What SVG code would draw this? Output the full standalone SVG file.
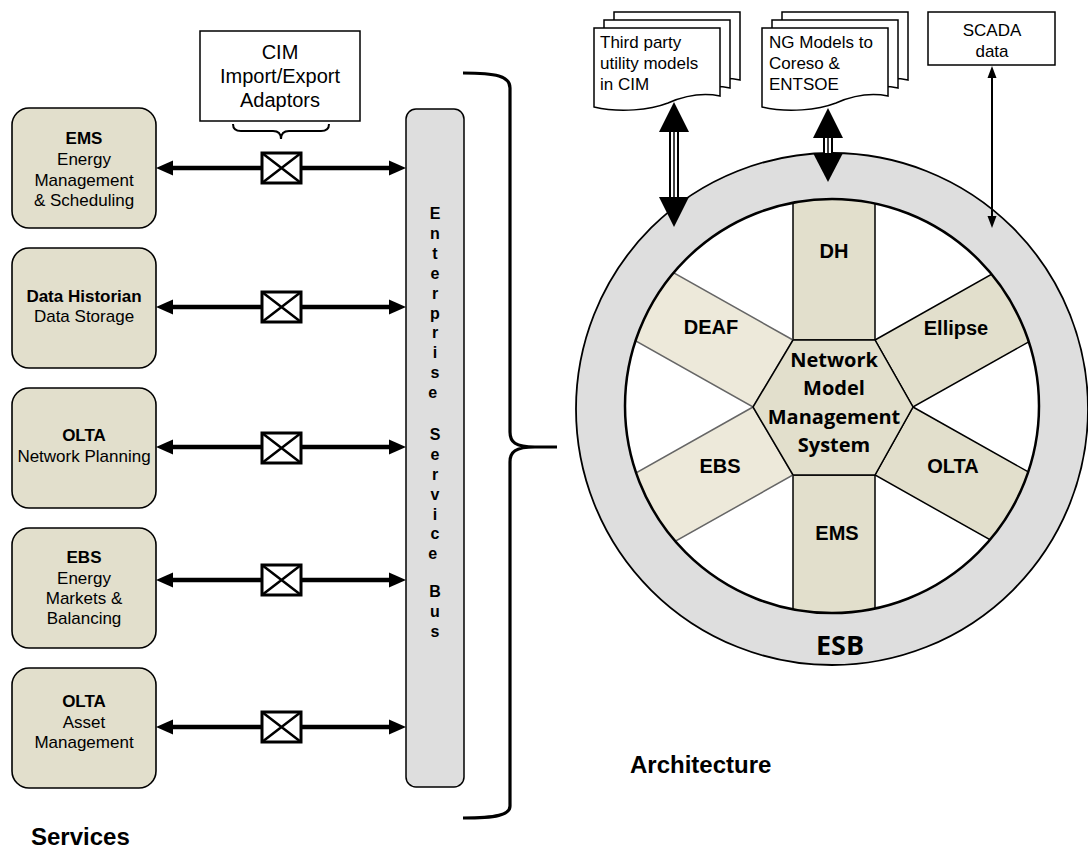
<svg xmlns="http://www.w3.org/2000/svg" width="1088" height="848" viewBox="0 0 1088 848">
<style>
.box{fill:#e2dfcc;stroke:#000;stroke-width:1.6}
.t{font-family:"Liberation Sans",Arial,sans-serif;font-size:17px;fill:#000;text-anchor:middle}
.tl{font-family:"Liberation Sans",Arial,sans-serif;font-size:17px;fill:#000}
.b{font-weight:bold}
.bus{font-family:"Liberation Sans",Arial,sans-serif;font-size:16px;font-weight:bold;text-anchor:middle}
.lab{font-family:"Liberation Sans",Arial,sans-serif;font-size:20px;font-weight:bold;text-anchor:middle}
.cal{font-family:"Open Sans","Liberation Sans",sans-serif;font-weight:bold;text-anchor:middle}
.ln{stroke:#000;stroke-width:4.5;fill:none}
.xb{fill:#fff;stroke:#000;stroke-width:3}
.xl{stroke:#000;stroke-width:2.5}
.doc{fill:#fff;stroke:#000;stroke-width:1.5}
.spk{fill:#e2dfcc;stroke:#000;stroke-width:1.5}
.spkl{fill:#ede9da;stroke:#666;stroke-width:1.5}
</style>
<defs>
<clipPath id="inner"><circle cx="832" cy="406" r="207"/></clipPath>
<path id="docshape" d="M0,0 H126 V68 C106,64 90,68 74,75 C56,82 26,85 0,79 Z"/>
</defs>

<!-- Left service boxes -->
<g id="node-ems">
<rect class="box" x="12" y="108" width="144" height="120" rx="17"/>
<text class="t b" x="84" y="144">EMS</text>
<text class="t" x="84" y="165">Energy</text>
<text class="t" x="84" y="186">Management</text>
<text class="t" x="84" y="206">&amp; Scheduling</text>
</g>
<g id="node-dh">
<rect class="box" x="12" y="248" width="144" height="120" rx="17"/>
<text class="t b" x="84" y="302">Data Historian</text>
<text class="t" x="84" y="322">Data Storage</text>
</g>
<g id="node-olta-np">
<rect class="box" x="12" y="388" width="144" height="120" rx="17"/>
<text class="t b" x="84" y="441">OLTA</text>
<text class="t" x="84" y="462">Network Planning</text>
</g>
<g id="node-ebs">
<rect class="box" x="12" y="528" width="144" height="120" rx="17"/>
<text class="t b" x="84" y="563">EBS</text>
<text class="t" x="84" y="584">Energy</text>
<text class="t" x="84" y="604">Markets &amp;</text>
<text class="t" x="84" y="624">Balancing</text>
</g>
<g id="node-olta-am">
<rect class="box" x="12" y="668" width="144" height="120" rx="17"/>
<text class="t b" x="84" y="707">OLTA</text>
<text class="t" x="84" y="728">Asset</text>
<text class="t" x="84" y="748">Management</text>
</g>

<!-- CIM adaptors -->
<g id="node-cim">
<rect x="200" y="31" width="160" height="90" fill="#fff" stroke="#000" stroke-width="1.5"/>
<text class="t" x="280" y="59" style="font-size:20px">CIM</text>
<text class="t" x="280" y="83" style="font-size:20px">Import/Export</text>
<text class="t" x="280" y="107" style="font-size:20px">Adaptors</text>
<path d="M233,124 Q233,131 241,131 H273 Q281,131 281,139 Q281,131 289,131 H321 Q329,131 329,124" fill="none" stroke="#000" stroke-width="2"/>
</g>

<!-- Enterprise Service Bus -->
<g id="node-bus">
<rect x="406" y="109" width="58" height="678" rx="10" fill="#dedede" stroke="#000" stroke-width="1.5"/>
<text class="bus">
<tspan x="435" y="219">E</tspan><tspan x="435" y="238.9">n</tspan><tspan x="435" y="258.8">t</tspan><tspan x="435" y="278.7">e</tspan><tspan x="435" y="298.6">r</tspan><tspan x="435" y="318.5">p</tspan><tspan x="435" y="338.4">r</tspan><tspan x="435" y="358.3">i</tspan><tspan x="435" y="378.2">s</tspan><tspan x="435" y="398.1">e</tspan>
<tspan x="435" y="439.9">S</tspan><tspan x="435" y="459.8">e</tspan><tspan x="435" y="479.7">r</tspan><tspan x="435" y="499.6">v</tspan><tspan x="435" y="519.5">i</tspan><tspan x="435" y="539.4">c</tspan><tspan x="435" y="559.3">e</tspan>
<tspan x="435" y="597.1">B</tspan><tspan x="435" y="617">u</tspan><tspan x="435" y="636.9">s</tspan>
</text>
</g>

<!-- Big brace -->
<g id="brace">
<path d="M463,73 C496,73 510,76 510,88 V432 C510,442 515,447 535,447 H557 M535,447 C515,447 510,452 510,462 V806 C510,815 496,818 463,818" fill="none" stroke="#000" stroke-width="3.2"/>
</g>

<!-- Documents -->
<g id="node-thirdparty">
<use href="#docshape" class="doc" transform="translate(614,12)"/>
<use href="#docshape" class="doc" transform="translate(604,20)"/>
<use href="#docshape" class="doc" transform="translate(594,28)"/>
<text class="tl" x="600" y="48">Third party</text>
<text class="tl" x="600" y="69">utility models</text>
<text class="tl" x="600" y="90">in CIM</text>
</g>
<g id="node-ng">
<use href="#docshape" class="doc" transform="translate(782,12)"/>
<use href="#docshape" class="doc" transform="translate(772,20)"/>
<use href="#docshape" class="doc" transform="translate(762,28)"/>
<text class="tl" x="769" y="48">NG Models to</text>
<text class="tl" x="769" y="69">Coreso &amp;</text>
<text class="tl" x="769" y="90">ENTSOE</text>
</g>
<g id="node-scada">
<rect x="928" y="12" width="127" height="53" fill="#fff" stroke="#000" stroke-width="1.5"/>
<text class="t" x="992" y="36">SCADA</text>
<text class="t" x="992" y="57">data</text>
</g>

<!-- Architecture circle -->
<g id="node-esb">
<circle cx="832" cy="409" r="256" fill="#dedede" stroke="#000" stroke-width="1.8"/>
<circle cx="832" cy="406" r="207" fill="#fff"/>
<text class="cal" x="840" y="655" style="font-size:27px">ESB</text>
</g>
<g id="spokes" clip-path="url(#inner)">
<g id="node-dh-spoke"><polygon class="spk" points="793,340 875,340 875,150 793,150"/></g>
<g id="node-ems-spoke"><polygon class="spk" points="793,475 875,475 875,660 793,660"/></g>
<g id="node-ellipse"><polygon class="spk" points="875,340 1049,242 1087,309 913,407"/></g>
<g id="node-olta-spoke"><polygon class="spk" points="913,407 1087,505 1049,573 875,475"/></g>
<g id="node-deaf"><polygon class="spkl" points="793,340 619,242 579,309 753,407"/></g>
<g id="node-ebs-spoke"><polygon class="spkl" points="753,407 579,505 619,573 793,475"/></g>
</g>
<circle cx="832" cy="406" r="207" fill="none" stroke="#000" stroke-width="2.5"/>
<g id="node-nmms">
<polygon points="793,340 875,340 913,407 875,475 793,475 753,407" fill="#e2dfcc" stroke="#000" stroke-width="1.5"/>
<text class="cal" x="834" y="367" style="font-size:20px">Network</text>
<text class="cal" x="834" y="395" style="font-size:20px">Model</text>
<text class="cal" x="834" y="424" style="font-size:20px">Management</text>
<text class="cal" x="834" y="452" style="font-size:20px">System</text>
</g>
<text class="lab" x="834" y="258">DH</text>
<text class="lab" x="711" y="334">DEAF</text>
<text class="lab" x="956" y="335">Ellipse</text>
<text class="lab" x="720" y="473">EBS</text>
<text class="lab" x="953" y="473">OLTA</text>
<text class="lab" x="837" y="540">EMS</text>

<!-- Connectors -->
<g id="connectors">
<g id="c1">
<line class="ln" x1="170" y1="168" x2="392" y2="168"/>
<polygon points="156,168 173,160.5 173,175.5"/><polygon points="406,168 389,160.5 389,175.5"/>
<rect class="xb" x="262" y="153" width="39" height="30"/><path class="xl" d="M262,153 L301,183 M301,153 L262,183"/>
</g>
<g id="c2">
<line class="ln" x1="170" y1="307" x2="392" y2="307"/>
<polygon points="156,307 173,299.5 173,314.5"/><polygon points="406,307 389,299.5 389,314.5"/>
<rect class="xb" x="262" y="292" width="39" height="30"/><path class="xl" d="M262,292 L301,322 M301,292 L262,322"/>
</g>
<g id="c3">
<line class="ln" x1="170" y1="447" x2="392" y2="447"/>
<polygon points="156,447 173,439.5 173,454.5"/><polygon points="406,447 389,439.5 389,454.5"/>
<rect class="xb" x="262" y="433" width="39" height="30"/><path class="xl" d="M262,433 L301,463 M301,433 L262,463"/>
</g>
<g id="c4">
<line class="ln" x1="170" y1="580" x2="392" y2="580"/>
<polygon points="156,580 173,572.5 173,587.5"/><polygon points="406,580 389,572.5 389,587.5"/>
<rect class="xb" x="262" y="565" width="39" height="30"/><path class="xl" d="M262,565 L301,595 M301,565 L262,595"/>
</g>
<g id="c5">
<line class="ln" x1="170" y1="727" x2="392" y2="727"/>
<polygon points="156,727 173,719.5 173,734.5"/><polygon points="406,727 389,719.5 389,734.5"/>
<rect class="xb" x="262" y="712" width="39" height="30"/><path class="xl" d="M262,712 L301,742 M301,712 L262,742"/>
</g>
<g id="c-thirdparty">
<line x1="674" y1="130" x2="674" y2="199" stroke="#000" stroke-width="10"/>
<line x1="674" y1="130" x2="674" y2="199" stroke="#fff" stroke-width="6"/>
<line x1="674" y1="130" x2="674" y2="199" stroke="#000" stroke-width="1.5"/>
<polygon points="674,102 659,132 689,132"/><polygon points="659,197 689,197 674,227"/>
</g>
<g id="c-ng">
<line x1="828" y1="136" x2="828" y2="155" stroke="#000" stroke-width="10"/>
<line x1="828" y1="136" x2="828" y2="155" stroke="#fff" stroke-width="6"/>
<line x1="828" y1="136" x2="828" y2="155" stroke="#000" stroke-width="1.5"/>
<polygon points="828,108 813,138 843,138"/><polygon points="813,153 843,153 828,182"/>
</g>
<g id="c-scada">
<line x1="992" y1="76" x2="992" y2="218" stroke="#000" stroke-width="2"/>
<polygon points="992,66 987.5,78 996.5,78"/><polygon points="992,228 987.5,216 996.5,216"/>
</g>
</g>

<text class="tl b" x="630" y="773" style="font-size:24px">Architecture</text>
<text class="tl b" x="31" y="845" style="font-size:24px">Services</text>
</svg>
